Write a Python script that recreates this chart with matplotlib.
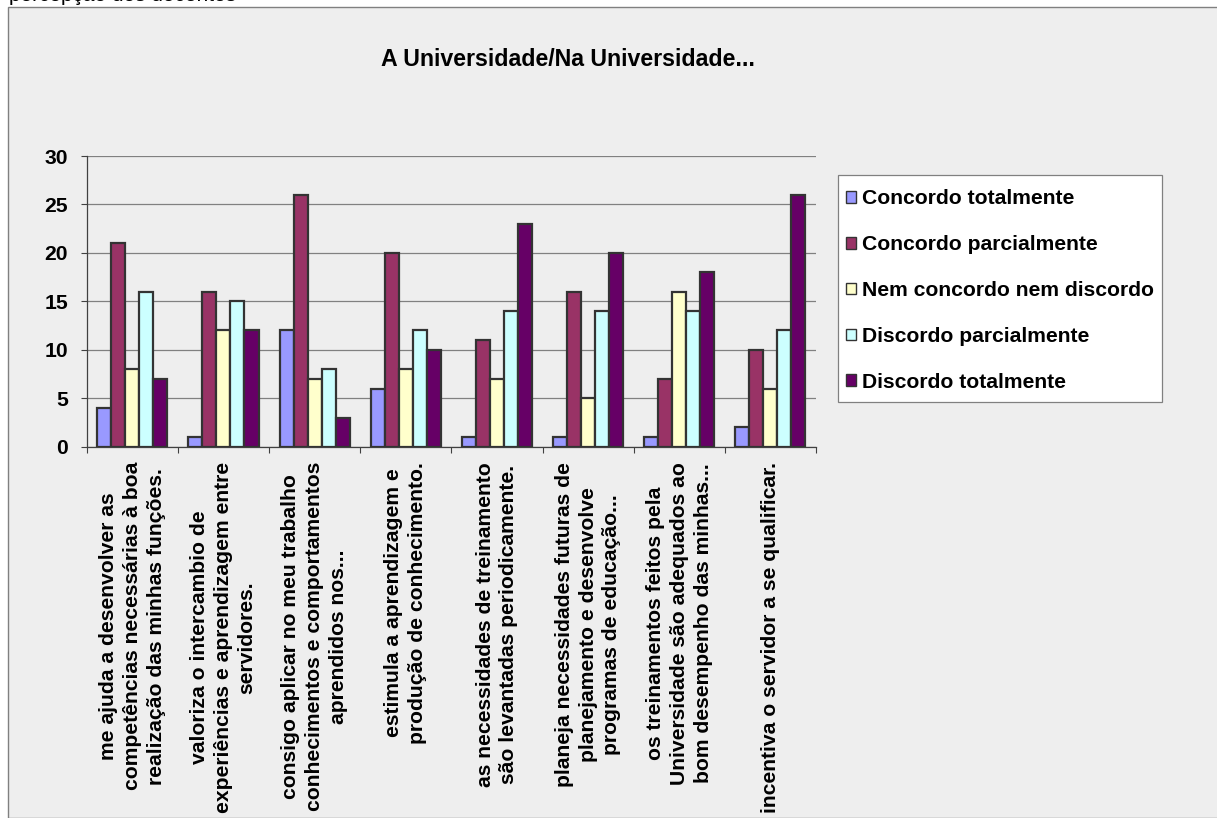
import numpy as np
import matplotlib
matplotlib.use("Agg")
import matplotlib.pyplot as plt
from matplotlib.patches import Rectangle
from matplotlib.ticker import FixedLocator, MultipleLocator

plt.rcParams['font.family'] = ['Liberation Sans', 'DejaVu Sans']

title = "A Universidade/Na Universidade..."
header = "percepção dos docentes"

categories = [
    "me ajuda a desenvolver as\ncompetências necessárias à boa\nrealização das minhas funções.",
    "valoriza o intercambio de\nexperiências e aprendizagem entre\nservidores.",
    "consigo aplicar no meu trabalho\nconhecimentos e comportamentos\naprendidos nos...",
    "estimula a aprendizagem e\nprodução de conhecimento.",
    "as necessidades de treinamento\nsão levantadas periodicamente.",
    "planeja necessidades futuras de\nplanejamento e desenvolve\nprogramas de educação...",
    "os treinamentos feitos pela\nUniversidade são adequados ao\nbom desempenho das minhas...",
    "incentiva o servidor a se qualificar.",
]

series_names = ["Concordo totalmente", "Concordo parcialmente",
                "Nem concordo nem discordo", "Discordo parcialmente",
                "Discordo totalmente"]
concordo_total = [4, 1, 12, 6, 1, 1, 1, 2]
concordo_parcial = [21, 16, 26, 20, 11, 16, 7, 10]
nem_nem = [8, 12, 7, 8, 7, 5, 16, 6]
discordo_parcial = [16, 15, 8, 12, 14, 14, 14, 12]
discordo_total = [7, 12, 3, 10, 23, 20, 18, 26]
series = [concordo_total, concordo_parcial, nem_nem, discordo_parcial, discordo_total]
colors = ["#9999FF", "#993366", "#FFFFCC", "#CCFFFF", "#660066"]

W, H = 1217, 818
fig = plt.figure(figsize=(W / 100, H / 100), dpi=100)
fig.patch.set_facecolor("white")

# chart area background
bg = Rectangle((8 / W, 0), 1, 1 - 7 / H, transform=fig.transFigure,
               facecolor="#EEEEEE", edgecolor="#808080", linewidth=1.0, zorder=-10)
fig.patches.append(bg)

# legend box drawn by hand so the padding matches
legbox = Rectangle((838 / W, 1 - 402 / H), (1162 - 838) / W, (402 - 175) / H,
                   transform=fig.transFigure, facecolor="white",
                   edgecolor="#808080", linewidth=0.9, zorder=-5)
fig.patches.append(legbox)

fig.text(9 / W, 1 - 1 / H, header, fontsize=15, va="baseline", ha="left")
fig.text(568 / W, 1 - 60 / H, title, fontsize=16.7, fontweight="bold",
         ha="center", va="center")

ax = fig.add_axes([86.7 / W, 1 - 446.7 / H, (816 - 86.7) / W, (446.7 - 156) / H])
ax.set_facecolor("#EEEEEE")

n = len(series)
x = np.arange(len(categories))
bw = 1 / (n + 1.5)
for i, (vals, c, name) in enumerate(zip(series, colors, series_names)):
    offs = (i - (n - 1) / 2) * bw
    ax.bar(x + offs, vals, bw, color=c, edgecolor="#333333", linewidth=1.6,
           label=name, zorder=3)

ax.set_xlim(-0.5, len(categories) - 0.5)
ax.set_ylim(0, 30)
ax.yaxis.set_major_locator(MultipleLocator(5))
ax.grid(axis="y", color="#808080", linewidth=0.9, zorder=0)
ax.set_axisbelow(True)

fs = 15.2
ax.xaxis.set_major_locator(FixedLocator(np.arange(-0.5, len(categories), 1)))
ax.xaxis.set_minor_locator(FixedLocator(x))
ax.set_xticklabels([])
ax.set_xticklabels(categories, minor=True, rotation=90, ha="center", va="top",
                   multialignment="center", fontsize=fs, fontweight="bold",
                   linespacing=1.32)
ax.tick_params(axis="x", which="minor", length=0, pad=11)
ax.tick_params(axis="x", which="major", length=4.5, width=0.8, color="#404040", direction="out")
ax.tick_params(axis="y", length=4.5, width=0.8, color="#404040", pad=9,
               labelsize=fs)
for lab in ax.get_yticklabels():
    lab.set_fontweight("bold")

for s in ["top", "right"]:
    ax.spines[s].set_visible(False)
for s in ["left", "bottom"]:
    ax.spines[s].set_color("#404040")
    ax.spines[s].set_linewidth(0.9)

leg = ax.legend(loc="upper left", bbox_to_anchor=(846 / W, 1 - 189.5 / H),
                bbox_transform=fig.transFigure, borderaxespad=0,
                frameon=False, borderpad=0,
                prop={"size": fs, "weight": "bold"},
                handlelength=0.48, handleheight=0.48, handletextpad=0.3,
                labelspacing=1.27)
for h in leg.legend_handles:
    h.set_linewidth(1.0)

fig.savefig("out.png", dpi=100, facecolor=fig.get_facecolor())
